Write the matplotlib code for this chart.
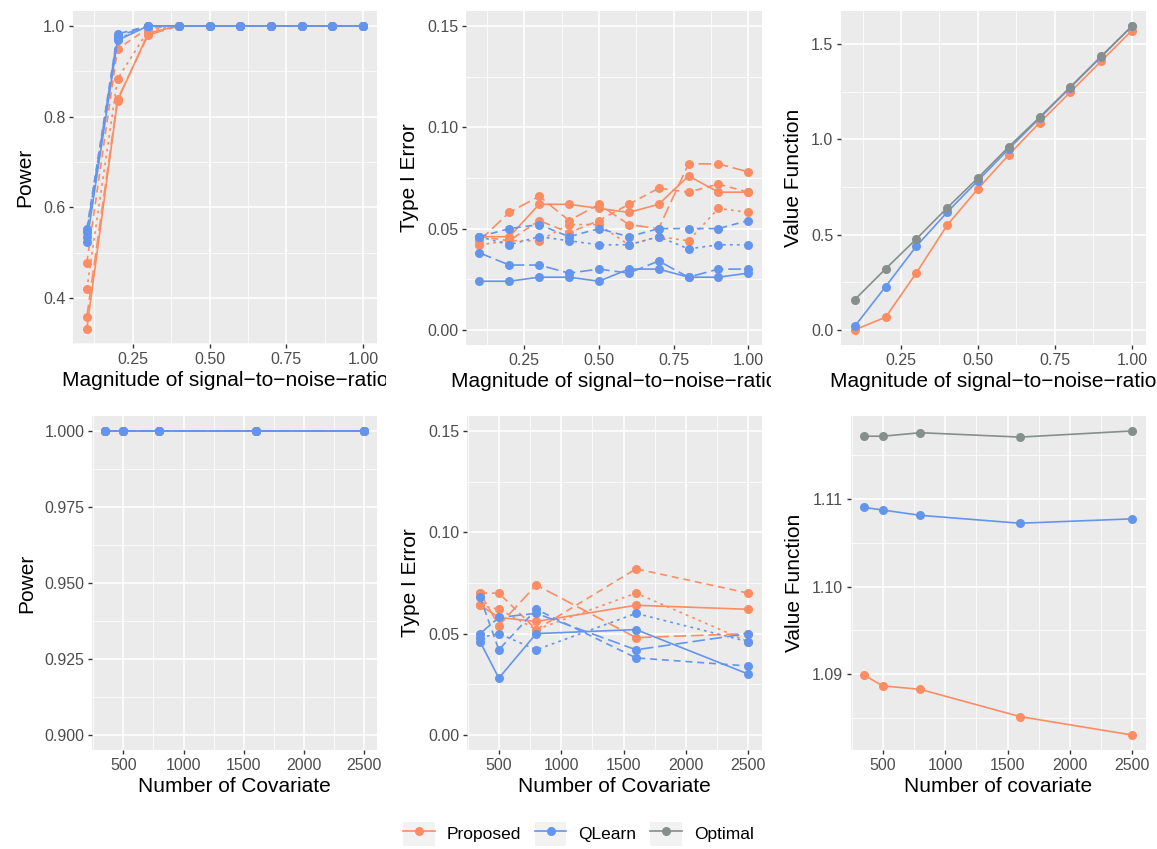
import matplotlib
matplotlib.use('Agg')
import matplotlib.pyplot as plt
from matplotlib.ticker import MultipleLocator, AutoMinorLocator, FormatStrFormatter
from matplotlib.transforms import Bbox, TransformedBbox
from matplotlib.lines import Line2D
from matplotlib.patches import Patch
from matplotlib.legend_handler import HandlerTuple

plt.rcParams['font.family'] = ['Liberation Sans', 'DejaVu Sans']
plt.rcParams['lines.scale_dashes'] = False

# ---- data ----
snr = [0.1, 0.2, 0.3, 0.4, 0.5, 0.6, 0.7, 0.8, 0.9, 1.0]
ncov = [350, 500, 800, 1600, 2500]

# power vs snr, 4 settings per method
pow_prop = [
    [0.332, 0.835, 0.984, 1, 1, 1, 1, 1, 1, 1],
    [0.478, 0.949, 0.995, 1, 1, 1, 1, 1, 1, 1],
    [0.420, 0.883, 0.990, 1, 1, 1, 1, 1, 1, 1],
    [0.358, 0.838, 0.980, 1, 1, 1, 1, 1, 1, 1],
]
pow_ql = [
    [0.524, 0.968, 1, 1, 1, 1, 1, 1, 1, 1],
    [0.552, 0.982, 1, 1, 1, 1, 1, 1, 1, 1],
    [0.534, 0.971, 1, 1, 1, 1, 1, 1, 1, 1],
    [0.546, 0.977, 1, 1, 1, 1, 1, 1, 1, 1],
]

# type I error vs snr
t1_prop = [
    [0.046, 0.046, 0.062, 0.062, 0.060, 0.058, 0.062, 0.076, 0.068, 0.068],
    [0.046, 0.044, 0.054, 0.048, 0.054, 0.062, 0.070, 0.068, 0.072, 0.068],
    [0.042, 0.044, 0.044, 0.052, 0.052, 0.042, 0.046, 0.044, 0.060, 0.058],
    [0.044, 0.058, 0.066, 0.054, 0.062, 0.052, 0.050, 0.082, 0.082, 0.078],
]
t1_ql = [
    [0.024, 0.024, 0.026, 0.026, 0.024, 0.030, 0.030, 0.026, 0.026, 0.028],
    [0.046, 0.050, 0.052, 0.046, 0.050, 0.046, 0.050, 0.050, 0.050, 0.054],
    [0.046, 0.042, 0.046, 0.044, 0.042, 0.042, 0.046, 0.040, 0.042, 0.042],
    [0.038, 0.032, 0.032, 0.028, 0.030, 0.028, 0.034, 0.026, 0.030, 0.030],
]

# value function vs snr
val_prop = [0.000, 0.066, 0.299, 0.549, 0.740, 0.918, 1.086, 1.247, 1.409, 1.570]
val_ql = [0.019, 0.227, 0.439, 0.617, 0.783, 0.949, 1.110, 1.271, 1.432, 1.593]
val_opt = [0.159, 0.320, 0.477, 0.640, 0.797, 0.960, 1.115, 1.274, 1.435, 1.593]

# power vs number of covariates
powb_prop = [[1, 1, 1, 1, 1]] * 4
powb_ql = [[1, 1, 1, 1, 1]] * 4

# type I error vs number of covariates
t1b_prop = [
    [0.064, 0.058, 0.056, 0.064, 0.062],
    [0.070, 0.070, 0.052, 0.082, 0.070],
    [0.064, 0.062, 0.052, 0.070, 0.046],
    [0.070, 0.054, 0.074, 0.048, 0.050],
]
t1b_ql = [
    [0.046, 0.028, 0.050, 0.052, 0.030],
    [0.068, 0.042, 0.062, 0.038, 0.034],
    [0.048, 0.050, 0.042, 0.060, 0.046],
    [0.050, 0.058, 0.060, 0.042, 0.050],
]

# value function vs number of covariates
valb_prop = [1.0899, 1.0887, 1.0883, 1.0852, 1.0831]
valb_ql = [1.1090, 1.1087, 1.1081, 1.1072, 1.1077]
valb_opt = [1.1171, 1.1171, 1.1175, 1.1170, 1.1177]

labels = ['Proposed', 'QLearn', 'Optimal']
colors = ['#FC8D62', '#6495ED', '#858F8C']
styles = ['-', (0, (5, 3.5)), (0, (2, 3)), (0, (9, 3.5))]

W, H = 1157, 849
fig = plt.figure(figsize=(W / 100, H / 100), dpi=100)


def make_ax(x0, y0, x1, y1):
    return fig.add_axes([x0 / W, 1 - y1 / H, (x1 - x0) / W, (y1 - y0) / H])


def style_ax(ax, col, xlab, ylab, xfmt, yfmt, xstep, ystep):
    ax.set_facecolor('#EBEBEB')
    for s in ax.spines.values():
        s.set_visible(False)
    ax.xaxis.set_major_locator(MultipleLocator(xstep))
    ax.yaxis.set_major_locator(MultipleLocator(ystep))
    ax.xaxis.set_minor_locator(AutoMinorLocator(2))
    ax.yaxis.set_minor_locator(AutoMinorLocator(2))
    ax.xaxis.set_major_formatter(FormatStrFormatter(xfmt))
    ax.yaxis.set_major_formatter(FormatStrFormatter(yfmt))
    ax.grid(which='major', color='white', lw=1.1)
    ax.grid(which='minor', color='white', lw=0.55)
    ax.set_axisbelow(True)
    ax.tick_params(which='major', length=3, width=1, color='#333333',
                   labelsize=11.5, labelcolor='#4D4D4D', pad=2.5)
    ax.tick_params(which='minor', length=0)
    ax.set_xlabel(xlab, fontsize=15, labelpad=3)
    ax.set_ylabel(ylab, fontsize=15, labelpad=6)
    # clip the x title to its column, like the original layout
    cb = TransformedBbox(Bbox([[col / 3, 0], [(col + 1) / 3, 1]]), fig.transFigure)
    ax.xaxis.label.set_clip_box(cb)
    ax.xaxis.label.set_clip_on(True)


def draw_sets(ax, x, sets, color):
    for ys, ls in zip(sets, styles):
        ax.plot(x, ys, color=color, ls=ls, lw=1.2, marker='o', ms=6.5,
                markeredgewidth=0)


snr_lab = 'Magnitude of signal\u2212to\u2212noise\u2212ratio'

# top-left: power
ax = make_ax(73, 10.7, 377, 344)
draw_sets(ax, snr, pow_prop, colors[0])
draw_sets(ax, snr, pow_ql, colors[1])
ax.set_xlim(0.055, 1.045)
ax.set_ylim(0.2986, 1.0334)
style_ax(ax, 0, snr_lab, 'Power', '%.2f', '%.1f', 0.25, 0.2)

# top-middle: type I error
ax = make_ax(466, 11, 761.7, 345)
draw_sets(ax, snr, t1_prop, colors[0])
draw_sets(ax, snr, t1_ql, colors[1])
ax.set_xlim(0.055, 1.045)
ax.set_ylim(-0.0075, 0.1575)
style_ax(ax, 1, snr_lab, 'Type I Error', '%.2f', '%.2f', 0.25, 0.05)

# top-right: value function
ax = make_ax(841, 11, 1145.7, 345)
for ys, c in zip([val_prop, val_ql, val_opt], colors):
    ax.plot(snr, ys, color=c, lw=1.2, marker='o', ms=6.5, markeredgewidth=0)
ax.set_xlim(0.055, 1.045)
ax.set_ylim(-0.0797, 1.6727)
style_ax(ax, 2, snr_lab, 'Value Function', '%.2f', '%.1f', 0.25, 0.5)

# bottom-left: power
ax = make_ax(92.3, 416, 377.3, 750)
draw_sets(ax, ncov, powb_prop, colors[0])
draw_sets(ax, ncov, powb_ql, colors[1])
ax.set_xlim(242.5, 2607.5)
ax.set_ylim(0.895, 1.005)
style_ax(ax, 0, 'Number of Covariate', 'Power', '%d', '%.3f', 500, 0.025)

# bottom-middle: type I error
ax = make_ax(466.7, 416, 761.7, 750)
draw_sets(ax, ncov, t1b_prop, colors[0])
draw_sets(ax, ncov, t1b_ql, colors[1])
ax.set_xlim(242.5, 2607.5)
ax.set_ylim(-0.0075, 0.1575)
style_ax(ax, 1, 'Number of Covariate', 'Type I Error', '%d', '%.2f', 500, 0.05)

# bottom-right: value function
ax = make_ax(850.7, 416, 1145.7, 750)
for ys, c in zip([valb_prop, valb_ql, valb_opt], colors):
    ax.plot(ncov, ys, color=c, lw=1.2, marker='o', ms=6.5, markeredgewidth=0)
ax.set_xlim(242.5, 2607.5)
ax.set_ylim(1.0814, 1.1194)
style_ax(ax, 2, 'Number of covariate', 'Value Function', '%d', '%.2f', 500, 0.01)

# legend with grey key boxes
handles = []
for c in colors:
    handles.append((Patch(facecolor='#F2F2F2', edgecolor='none'),
                    Line2D([], [], color=c, lw=1.2, marker='o', ms=6.5,
                           markeredgewidth=0)))
fig.legend(handles, labels, loc='lower center', bbox_to_anchor=(0.5, 0.0),
           ncol=3, frameon=False, fontsize=12.5, handlelength=1.8,
           handleheight=1.7, handletextpad=0.7, columnspacing=0.8,
           borderpad=0.1, borderaxespad=0.1,
           handler_map={tuple: HandlerTuple(ndivide=1, pad=0)})

fig.savefig('out.png', dpi=100)
